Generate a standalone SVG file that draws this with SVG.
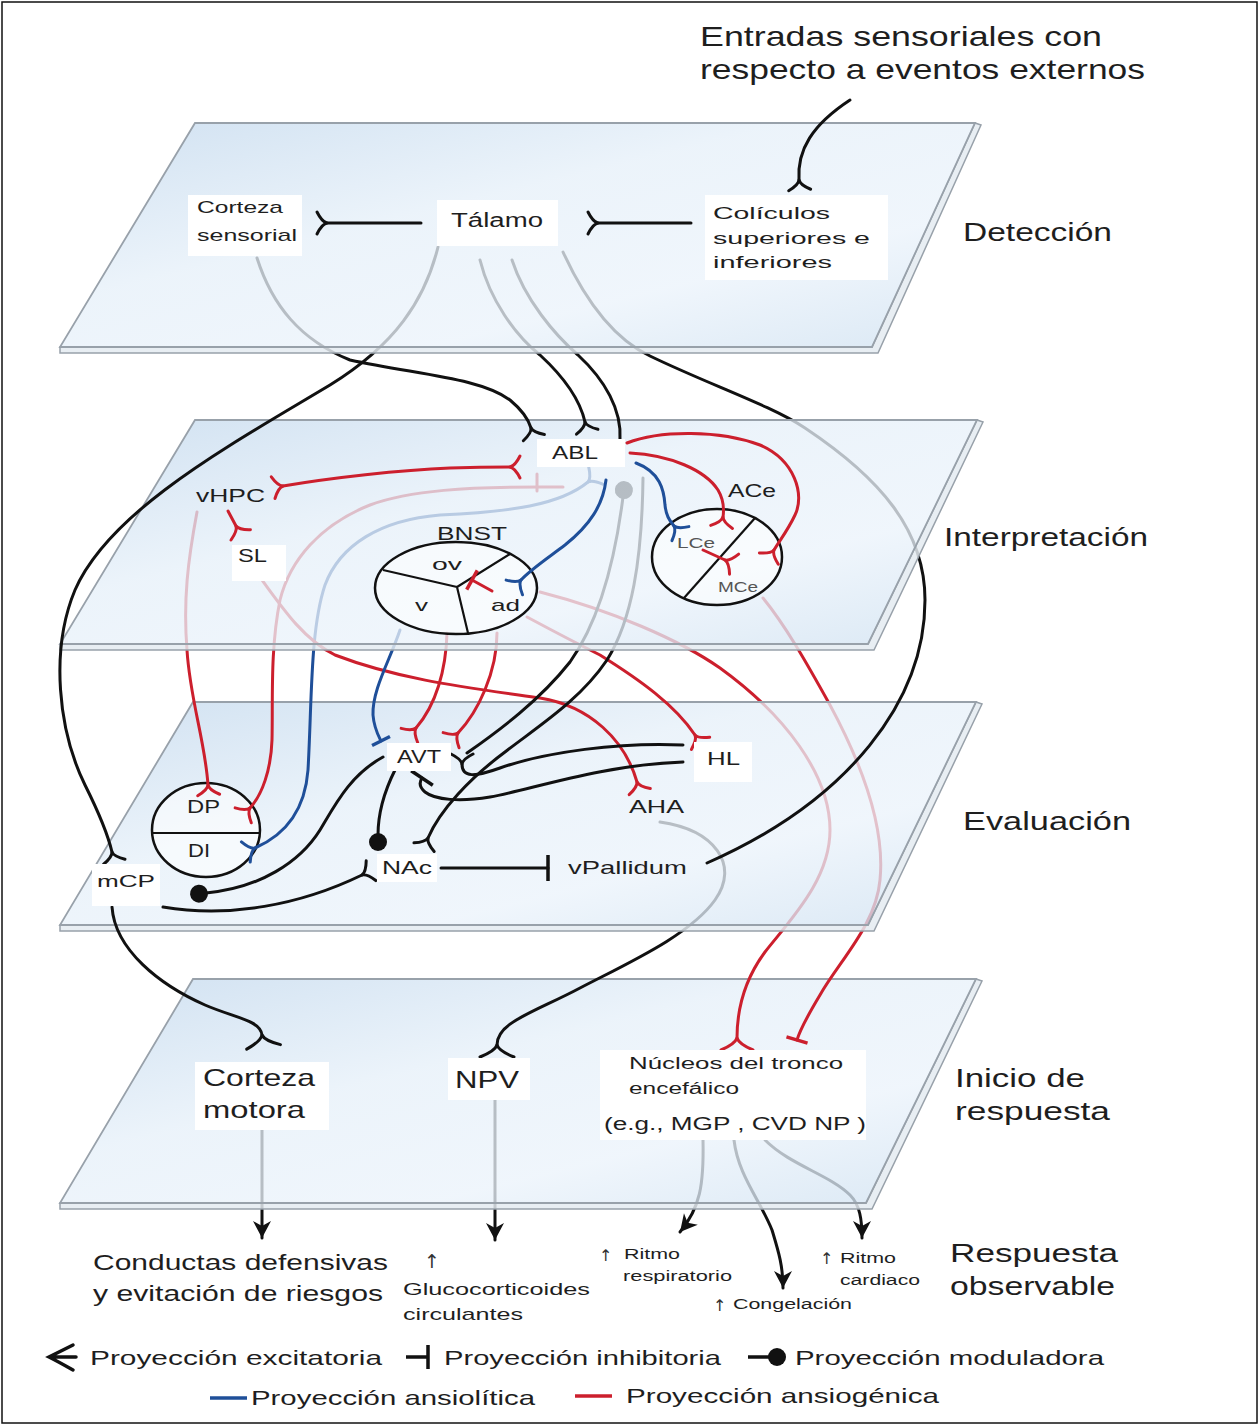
<svg xmlns="http://www.w3.org/2000/svg" width="1260" height="1426" viewBox="0 0 1260 1426">
<defs>
<linearGradient id="pg" x1="0" y1="0" x2="1" y2="1">
<stop offset="0" stop-color="#c2d8ed"/>
<stop offset="0.4" stop-color="#e6f0f9"/>
<stop offset="0.7" stop-color="#ebf3fb"/>
<stop offset="1" stop-color="#cfe1f1"/>
</linearGradient>
<marker id="ek" markerUnits="userSpaceOnUse" viewBox="-6 -20 26 40" markerWidth="26" markerHeight="40" refX="0" refY="0" orient="auto-start-reverse"><path d="M0,0 Q5,-1 10,-11 M0,0 Q5,1 10,11" fill="none" stroke="#111" stroke-width="3" stroke-linecap="round"/></marker>
<marker id="er" markerUnits="userSpaceOnUse" viewBox="-6 -20 26 40" markerWidth="26" markerHeight="40" refX="0" refY="0" orient="auto-start-reverse"><path d="M0,0 Q5,-1 10,-11 M0,0 Q5,1 10,11" fill="none" stroke="#cc1f2d" stroke-width="3" stroke-linecap="round"/></marker>
<marker id="eb" markerUnits="userSpaceOnUse" viewBox="-6 -20 26 40" markerWidth="26" markerHeight="40" refX="0" refY="0" orient="auto-start-reverse"><path d="M0,0 Q5,-1 10,-11 M0,0 Q5,1 10,11" fill="none" stroke="#1f4f99" stroke-width="3" stroke-linecap="round"/></marker>
<marker id="EK" markerUnits="userSpaceOnUse" viewBox="-6 -24 30 48" markerWidth="30" markerHeight="48" refX="0" refY="0" orient="auto-start-reverse"><path d="M0,0 Q6,-2 12,-17 M0,0 Q6,2 12,17" fill="none" stroke="#111" stroke-width="3" stroke-linecap="round"/></marker>
<marker id="ER" markerUnits="userSpaceOnUse" viewBox="-6 -24 30 48" markerWidth="30" markerHeight="48" refX="0" refY="0" orient="auto-start-reverse"><path d="M0,0 Q6,-2 12,-16 M0,0 Q6,2 12,16" fill="none" stroke="#cc1f2d" stroke-width="3" stroke-linecap="round"/></marker>
<marker id="ik" markerUnits="userSpaceOnUse" viewBox="-6 -20 12 40" markerWidth="12" markerHeight="40" refX="0" refY="0" orient="auto"><path d="M0,-13 L0,13" stroke="#111" stroke-width="3.5"/></marker>
<marker id="ir" markerUnits="userSpaceOnUse" viewBox="-6 -20 12 40" markerWidth="12" markerHeight="40" refX="0" refY="0" orient="auto"><path d="M0,-11 L0,11" stroke="#cc1f2d" stroke-width="3.5"/></marker>
<marker id="ib" markerUnits="userSpaceOnUse" viewBox="-6 -20 12 40" markerWidth="12" markerHeight="40" refX="0" refY="0" orient="auto"><path d="M0,-10 L0,10" stroke="#1f4f99" stroke-width="3.5"/></marker>
<marker id="mk" markerUnits="userSpaceOnUse" viewBox="-4 -14 28 28" markerWidth="28" markerHeight="28" refX="0" refY="0" orient="auto"><circle cx="7" cy="0" r="9" fill="#111"/></marker>
<marker id="ak" markerUnits="userSpaceOnUse" viewBox="-20 -12 24 24" markerWidth="24" markerHeight="24" refX="0" refY="0" orient="auto"><path d="M-17,-9 L0,0 L-17,9 L-12,0 Z" fill="#111"/></marker>
</defs>
<style>
.ln{fill:none;stroke-width:3;stroke-linecap:round}
.k{stroke:#111}
.r{stroke:#cc1f2d}
.b{stroke:#1f4f99}
.plane{fill:url(#pg);fill-opacity:.77;stroke:#98a1aa;stroke-width:1.8}
.slab{fill:#e4ebf1;fill-opacity:.85;stroke:#98a1aa;stroke-width:1.5}
text{font-family:"Liberation Sans",Arial,sans-serif;fill:#1e1e1e}
.up{font-family:"DejaVu Sans",sans-serif;fill:#333}
.box{fill:#fff}
.sub{fill:#555}
.shape{fill:#fff;fill-opacity:.55;stroke:#111;stroke-width:2.5}
.div{fill:none;stroke:#111;stroke-width:2.2}
</style>

<rect x="2" y="2" width="1255" height="1421" fill="#fff" stroke="#111" stroke-width="1.5"/>

<!-- connectors under plane 4 (response outputs) -->
<g id="conn-outputs">
<path class="ln k" d="M262,1128 L262,1238" marker-end="url(#ak)"/>
<path class="ln k" d="M495,1100 L495,1240" marker-end="url(#ak)"/>
<path class="ln k" d="M703,1140 C704,1185 700,1208 680,1232" marker-end="url(#ak)"/>
<path class="ln k" d="M734,1140 C738,1175 760,1200 772,1230 C778,1250 783,1265 783,1288" marker-end="url(#ak)"/>
<path class="ln k" d="M765,1140 C790,1165 830,1175 850,1195 C860,1205 862,1220 862,1238" marker-end="url(#ak)"/>
</g>

<g id="plane-inicio">
<polygon class="slab" points="60,1203 866,1203 976,979 982,981 872,1209 60,1209"/>
<polygon class="plane" points="193,979 976,979 866,1203 60,1203"/>
</g>

<!-- connectors under plane 3 and plane 2 -->
<g id="conn-deep">
<path class="ln k" d="M660,822 C715,830 740,865 715,900 C690,935 630,962 580,988 C535,1012 497,1022 497,1045" marker-end="url(#EK)"/>
<path class="ln r" d="M540,592 C610,610 680,640 720,668 C785,715 830,775 830,830 C830,880 790,920 765,952 C748,975 737,1005 737,1038" marker-end="url(#ER)"/>
<path class="ln r" d="M763,598 C785,625 805,660 830,705 C865,770 885,830 880,880 C876,925 840,960 820,995 C808,1015 800,1030 797,1040" marker-end="url(#ir)"/>
</g>

<g id="plane-evaluacion">
<polygon class="slab" points="60,925 868,925 976,702 982,704 874,931 60,931"/>
<polygon class="plane" points="193,702 976,702 868,925 60,925"/>
</g>

<g id="node-PAG">
<ellipse class="shape" cx="206" cy="830" rx="54" ry="47"/>
<path class="div" d="M153,833 L259,833"/>
<text x="187" y="813" font-size="18" textLength="33" lengthAdjust="spacingAndGlyphs">DP</text>
<text x="188" y="857" font-size="18" textLength="22" lengthAdjust="spacingAndGlyphs">DI</text>
</g>

<!-- connectors under plane 2, over plane 3 -->
<g id="conn-mid">
<path class="ln r" d="M197,512 C188,560 183,600 187,650 C190,700 205,740 208,785" marker-end="url(#er)"/>
<path class="ln r" d="M563,487 L540,487 C470,487 410,490 370,505 C320,525 290,560 280,600 C270,650 273,700 272,740 C271,770 262,795 250,808" marker-end="url(#er)"/>
<path class="ln r" d="M537,474 L537,491"/>
<path class="ln b" d="M588,482 C560,505 510,512 440,515 C380,520 340,545 325,585 C310,630 312,700 308,770 C305,810 285,835 255,848" marker-start="url(#eb)" marker-end="url(#eb)"/>
<path class="ln r" d="M262,580 C285,612 305,640 335,655 C400,680 470,688 540,698 C590,706 625,740 637,782" marker-end="url(#er)"/>
<path class="ln r" d="M527,617 C555,632 580,645 600,655 C640,680 675,705 695,735" marker-end="url(#er)"/>
<path class="ln b" d="M400,630 C390,660 372,690 373,715 C374,728 378,735 381,741" marker-end="url(#ib)"/>
<path class="ln r" d="M447,633 C446,670 436,705 416,728" marker-end="url(#er)"/>
<path class="ln r" d="M497,633 C497,672 478,712 458,733" marker-end="url(#er)"/>
<path class="ln k" d="M467,753 C500,730 540,700 570,662 C600,620 615,560 623,497" marker-end="url(#mk)"/>
<path class="ln k" d="M643,478 C642,560 632,620 607,660 C580,700 540,725 505,752 C470,778 440,810 428,838" marker-end="url(#ek)"/>
<path class="ln k" d="M563,252 C585,300 612,338 650,356 C710,385 770,405 805,428 C880,478 925,530 925,600 C925,700 850,800 707,863"/>
<path class="ln k" d="M112,907 C115,950 160,985 205,1005 C235,1018 260,1020 262,1035" marker-end="url(#EK)"/>
<path class="ln k" d="M441,868 L548,868" marker-end="url(#ik)"/>
<path class="ln k" d="M683,745 C620,742 545,752 500,768 C475,777 462,778 462,764" marker-end="url(#ek)"/>
<path class="ln k" d="M683,762 C600,765 530,790 490,797 C460,802 435,800 425,792 C418,786 420,781 422,778" marker-end="url(#ik)"/>
<path class="ln k" d="M395,770 C385,790 378,810 378,835" marker-end="url(#mk)"/>
<path class="ln k" d="M383,757 C350,775 335,805 320,830 C300,862 260,888 206,893" marker-end="url(#mk)"/>
<path class="ln k" d="M163,907 C230,918 300,905 362,875" marker-end="url(#ek)"/>
</g>

<g id="plane-interpretacion">
<polygon class="slab" points="60,644 868,644 977,420 983,422 874,650 60,650"/>
<polygon class="plane" points="195,420 977,420 868,644 60,644"/>
</g>

<g id="node-BNST">
<ellipse class="shape" cx="456" cy="588" rx="81" ry="46"/>
<path class="div" d="M457,587 L383,570 M457,587 L510,554 M457,587 L468,633"/>
<text x="437" y="540" font-size="19" textLength="70" lengthAdjust="spacingAndGlyphs">BNST</text>
<text x="432" y="570" font-size="17" textLength="30" lengthAdjust="spacingAndGlyphs">ov</text>
<text x="415" y="611" font-size="17" textLength="13" lengthAdjust="spacingAndGlyphs">v</text>
<text x="491" y="611" font-size="17" textLength="29" lengthAdjust="spacingAndGlyphs">ad</text>
</g>

<g id="node-CeA">
<ellipse class="shape" cx="717" cy="557" rx="65" ry="48"/>
<path class="div" d="M755,518 L684,598"/>
<text x="728" y="497" font-size="18" textLength="48" lengthAdjust="spacingAndGlyphs">ACe</text>
<text class="sub" x="677" y="548" font-size="14" textLength="38" lengthAdjust="spacingAndGlyphs">LCe</text>
<text class="sub" x="718" y="592" font-size="14" textLength="40" lengthAdjust="spacingAndGlyphs">MCe</text>
</g>

<!-- connectors over plane 2, under plane 1 -->
<g id="conn-upper">
<path class="ln r" d="M283,486 C330,478 400,470 450,468 C480,467 495,467 510,467" marker-start="url(#er)" marker-end="url(#er)"/>
<path class="ln r" d="M228,511 L236,526" marker-end="url(#er)"/>
<path class="ln b" d="M606,480 C603,505 590,525 565,545 C545,560 530,570 521,580" marker-end="url(#eb)"/>
<path class="ln r" d="M492,591 L472,580" marker-end="url(#ir)"/>
<path class="ln b" d="M636,463 C660,472 664,490 665,505 C666,515 669,520 674,526" marker-end="url(#eb)"/>
<path class="ln r" d="M630,453 C670,455 705,470 718,490 C724,500 724,510 723,517" marker-end="url(#er)"/>
<path class="ln r" d="M627,443 C660,430 720,430 760,445 C795,460 805,495 795,515 C788,530 780,540 774,550" marker-end="url(#er)"/>
<path class="ln r" d="M703,550 L725,560" marker-end="url(#er)"/>
<path class="ln k" d="M257,258 C272,305 300,340 350,360 C420,375 480,378 510,400 C522,410 528,418 531,428" marker-end="url(#ek)"/>
<path class="ln k" d="M480,260 C490,300 515,335 540,355 C565,378 580,400 585,422" marker-end="url(#ek)"/>
<path class="ln k" d="M512,260 C525,300 555,335 578,355 C605,380 622,410 620,440"/>
<path class="ln k" d="M438,247 C425,300 395,345 330,385 C230,445 110,510 75,590 C50,650 58,730 85,785 C100,815 108,835 112,852" marker-end="url(#ek)"/>
</g>

<g id="plane-deteccion">
<polygon class="slab" points="60,347 872,347 975,123 981,125 878,353 60,353"/>
<polygon class="plane" points="195,123 975,123 872,347 60,347"/>
</g>

<!-- connectors on top of plane 1 -->
<g id="conn-top">
<path class="ln k" d="M421,223 L327,223" marker-end="url(#ek)"/>
<path class="ln k" d="M691,223 L598,223" marker-end="url(#ek)"/>
<path class="ln k" d="M850,100 C812,125 797,150 799,180" marker-end="url(#ek)"/>
</g>

<!-- nodes / labels -->
<g id="node-entradas">
<text x="700" y="46" font-size="28" textLength="402" lengthAdjust="spacingAndGlyphs">Entradas sensoriales con</text>
<text x="700" y="79" font-size="28" textLength="445" lengthAdjust="spacingAndGlyphs">respecto a eventos externos</text>
</g>
<g id="node-corteza-sensorial">
<rect class="box" x="188" y="195" width="114" height="61"/>
<text x="197" y="213" font-size="17" textLength="86" lengthAdjust="spacingAndGlyphs">Corteza</text>
<text x="197" y="241" font-size="17" textLength="100" lengthAdjust="spacingAndGlyphs">sensorial</text>
</g>
<g id="node-talamo">
<rect class="box" x="437" y="200" width="121" height="46"/>
<text x="451" y="227" font-size="20" textLength="92" lengthAdjust="spacingAndGlyphs">Tálamo</text>
</g>
<g id="node-coliculos">
<rect class="box" x="705" y="195" width="183" height="85"/>
<text x="713" y="219" font-size="17" textLength="117" lengthAdjust="spacingAndGlyphs">Colículos</text>
<text x="713" y="244" font-size="17" textLength="157" lengthAdjust="spacingAndGlyphs">superiores e</text>
<text x="713" y="268" font-size="17" textLength="119" lengthAdjust="spacingAndGlyphs">inferiores</text>
</g>
<g id="node-vHPC"><text x="196" y="502" font-size="19" textLength="69" lengthAdjust="spacingAndGlyphs">vHPC</text></g>
<g id="node-SL">
<rect class="box" x="232" y="545" width="54" height="36"/>
<text x="238" y="562" font-size="18" textLength="29" lengthAdjust="spacingAndGlyphs">SL</text>
</g>
<g id="node-ABL">
<rect class="box" x="537" y="439" width="88" height="28"/>
<text x="552" y="459" font-size="18" textLength="46" lengthAdjust="spacingAndGlyphs">ABL</text>
</g>
<g id="node-mCP">
<rect class="box" x="92" y="864" width="68" height="42"/>
<text x="97" y="887" font-size="17" textLength="58" lengthAdjust="spacingAndGlyphs">mCP</text>
</g>
<g id="node-AVT">
<rect class="box" x="387" y="743" width="64" height="28"/>
<text x="397" y="763" font-size="18" textLength="44" lengthAdjust="spacingAndGlyphs">AVT</text>
</g>
<g id="node-NAc">
<rect class="box" x="377" y="854" width="60" height="28"/>
<text x="382" y="874" font-size="19" textLength="50" lengthAdjust="spacingAndGlyphs">NAc</text>
</g>
<g id="node-HL">
<rect class="box" x="694" y="742" width="58" height="40"/>
<text x="707" y="765" font-size="18" textLength="33" lengthAdjust="spacingAndGlyphs">HL</text>
</g>
<g id="node-AHA"><text x="629" y="813" font-size="18" textLength="55" lengthAdjust="spacingAndGlyphs">AHA</text></g>
<g id="node-vPallidum"><text x="568" y="874" font-size="19" textLength="119" lengthAdjust="spacingAndGlyphs">vPallidum</text></g>
<g id="node-corteza-motora">
<rect class="box" x="195" y="1062" width="134" height="68"/>
<text x="203" y="1086" font-size="24" textLength="112" lengthAdjust="spacingAndGlyphs">Corteza</text>
<text x="203" y="1118" font-size="24" textLength="102" lengthAdjust="spacingAndGlyphs">motora</text>
</g>
<g id="node-NPV">
<rect class="box" x="448" y="1058" width="82" height="42"/>
<text x="455" y="1088" font-size="24" textLength="64" lengthAdjust="spacingAndGlyphs">NPV</text>
</g>
<g id="node-nucleos">
<rect class="box" x="600" y="1050" width="266" height="90"/>
<text x="629" y="1069" font-size="16" textLength="214" lengthAdjust="spacingAndGlyphs">Núcleos del tronco</text>
<text x="629" y="1094" font-size="16" textLength="110" lengthAdjust="spacingAndGlyphs">encefálico</text>
<text x="604" y="1130" font-size="18" textLength="262" lengthAdjust="spacingAndGlyphs">(e.g., MGP , CVD NP )</text>
</g>

<g id="level-labels">
<text x="963" y="241" font-size="26" textLength="149" lengthAdjust="spacingAndGlyphs">Detección</text>
<text x="944" y="546" font-size="26" textLength="204" lengthAdjust="spacingAndGlyphs">Interpretación</text>
<text x="963" y="830" font-size="26" textLength="168" lengthAdjust="spacingAndGlyphs">Evaluación</text>
<text x="955" y="1087" font-size="26" textLength="130" lengthAdjust="spacingAndGlyphs">Inicio de</text>
<text x="955" y="1120" font-size="26" textLength="155" lengthAdjust="spacingAndGlyphs">respuesta</text>
<text x="950" y="1262" font-size="26" textLength="168" lengthAdjust="spacingAndGlyphs">Respuesta</text>
<text x="950" y="1295" font-size="26" textLength="165" lengthAdjust="spacingAndGlyphs">observable</text>
</g>

<g id="outputs">
<text x="93" y="1270" font-size="22" textLength="295" lengthAdjust="spacingAndGlyphs">Conductas defensivas</text>
<text x="93" y="1301" font-size="22" textLength="290" lengthAdjust="spacingAndGlyphs">y evitación de riesgos</text>
<text class="up" x="424" y="1268" font-size="19">↑</text>
<text x="403" y="1295" font-size="17" textLength="187" lengthAdjust="spacingAndGlyphs">Glucocorticoides</text>
<text x="403" y="1320" font-size="17" textLength="120" lengthAdjust="spacingAndGlyphs">circulantes</text>
<text class="up" x="599" y="1261" font-size="16">↑</text>
<text x="624" y="1259" font-size="14" textLength="56" lengthAdjust="spacingAndGlyphs">Ritmo</text>
<text x="623" y="1281" font-size="14" textLength="109" lengthAdjust="spacingAndGlyphs">respiratorio</text>
<text class="up" x="713" y="1311" font-size="16">↑</text>
<text x="733" y="1309" font-size="14" textLength="119" lengthAdjust="spacingAndGlyphs">Congelación</text>
<text class="up" x="820" y="1264" font-size="16">↑</text>
<text x="840" y="1263" font-size="14" textLength="56" lengthAdjust="spacingAndGlyphs">Ritmo</text>
<text x="840" y="1285" font-size="14" textLength="80" lengthAdjust="spacingAndGlyphs">cardiaco</text>
</g>

<g id="legend">
<path d="M73,1345 Q57,1353 49,1357 Q57,1361 73,1370 M49,1357 L76,1357" fill="none" stroke="#111" stroke-width="3.5" stroke-linecap="round"/>
<text x="90" y="1365" font-size="21" textLength="292" lengthAdjust="spacingAndGlyphs">Proyección excitatoria</text>
<path d="M406,1357 L428,1357 M428,1345 L428,1369" fill="none" stroke="#111" stroke-width="3.5"/>
<text x="444" y="1365" font-size="21" textLength="277" lengthAdjust="spacingAndGlyphs">Proyección inhibitoria</text>
<path d="M748,1357 L772,1357" stroke="#111" stroke-width="3.5"/>
<circle cx="777" cy="1357" r="9" fill="#111"/>
<text x="795" y="1365" font-size="21" textLength="309" lengthAdjust="spacingAndGlyphs">Proyección moduladora</text>
<path d="M210,1398 L247,1398" stroke="#1f4f99" stroke-width="3.5"/>
<text x="251" y="1405" font-size="21" textLength="284" lengthAdjust="spacingAndGlyphs">Proyección ansiolítica</text>
<path d="M575,1396 L612,1396" stroke="#cc1f2d" stroke-width="3.5"/>
<text x="626" y="1403" font-size="21" textLength="313" lengthAdjust="spacingAndGlyphs">Proyección ansiogénica</text>
</g>
</svg>
